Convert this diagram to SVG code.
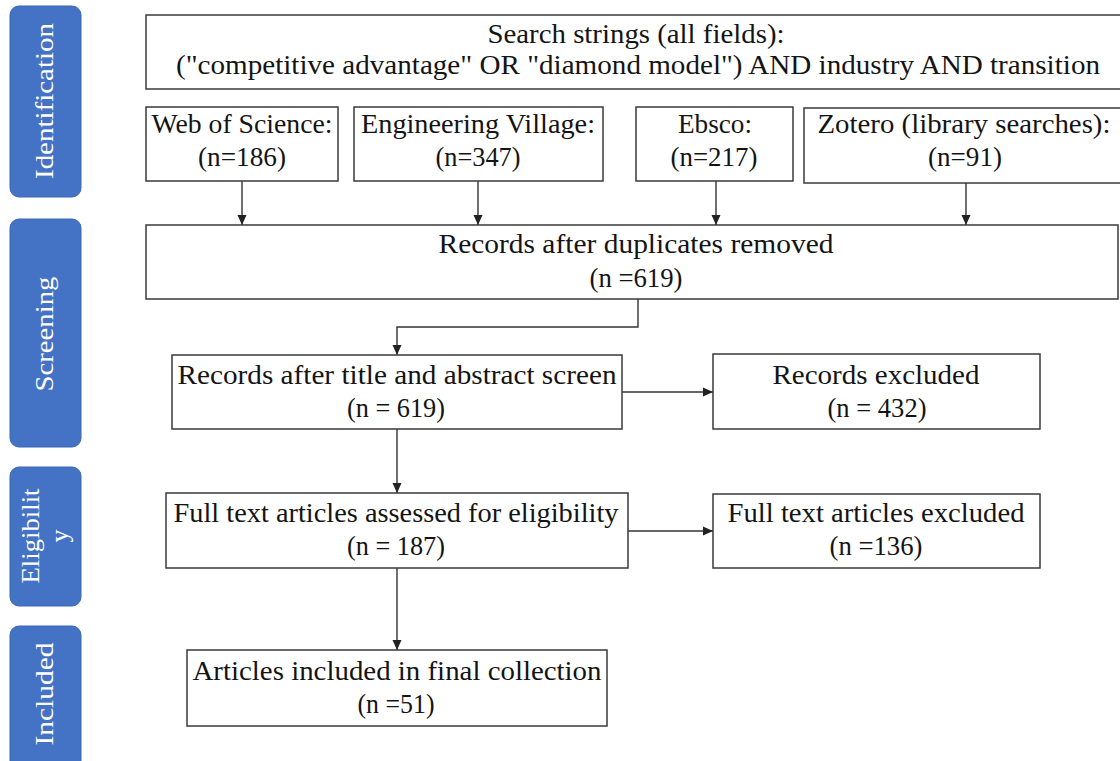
<svg xmlns="http://www.w3.org/2000/svg" width="1120" height="761" viewBox="0 0 1120 761">
  <defs>
    <style>
      .tab { fill: #4472C4; stroke: #3B66B5; stroke-width: 1; }
      .tabtxt { font-family: "Liberation Serif", serif; font-size: 26px; fill: #ffffff; text-anchor: middle; }
      .box { fill: #ffffff; stroke: #3a3a3a; stroke-width: 1.5; }
      .txt { font-family: "Liberation Serif", serif; font-size: 26.5px; fill: #141414; text-anchor: middle; }
      .conn { fill: none; stroke: #333333; stroke-width: 1.4; }
    </style>
    <marker id="arrow" markerUnits="userSpaceOnUse" markerWidth="10" markerHeight="10" viewBox="0 0 10 10" refX="10" refY="5" orient="auto">
      <path d="M0,0.5 L10,5 L0,9.5 Z" fill="#222222"/>
    </marker>
  </defs>

  <!-- stage tabs -->
  <g id="tab-identification">
    <rect class="tab" x="10" y="6" width="71" height="191" rx="9"/>
    <text class="tabtxt" transform="translate(53,101) rotate(-90)" textLength="156" lengthAdjust="spacingAndGlyphs">Identification</text>
  </g>
  <g id="tab-screening">
    <rect class="tab" x="10" y="219" width="71" height="228" rx="9"/>
    <text class="tabtxt" transform="translate(53,334) rotate(-90)" textLength="115" lengthAdjust="spacingAndGlyphs">Screening</text>
  </g>
  <g id="tab-eligibility">
    <rect class="tab" x="10" y="467" width="71" height="139" rx="9"/>
    <text class="tabtxt" transform="translate(39,536) rotate(-90)" textLength="95" lengthAdjust="spacingAndGlyphs">Eligibilit</text>
    <text class="tabtxt" transform="translate(68,536) rotate(-90)">y</text>
  </g>
  <g id="tab-included">
    <rect class="tab" x="10" y="626" width="71" height="150" rx="9"/>
    <text class="tabtxt" transform="translate(53,694) rotate(-90)" textLength="103" lengthAdjust="spacingAndGlyphs">Included</text>
  </g>

  <!-- connectors -->
  <g id="connectors">
    <line class="conn" x1="242" y1="181" x2="242" y2="225" marker-end="url(#arrow)"/>
    <line class="conn" x1="478" y1="181" x2="478" y2="225" marker-end="url(#arrow)"/>
    <line class="conn" x1="716" y1="181" x2="716" y2="225" marker-end="url(#arrow)"/>
    <line class="conn" x1="966" y1="183" x2="966" y2="225" marker-end="url(#arrow)"/>
    <polyline class="conn" points="638,299 638,327 397,327 397,355" marker-end="url(#arrow)"/>
    <line class="conn" x1="622" y1="392" x2="713" y2="392" marker-end="url(#arrow)"/>
    <line class="conn" x1="397" y1="429" x2="397" y2="493" marker-end="url(#arrow)"/>
    <line class="conn" x1="628" y1="531" x2="713" y2="531" marker-end="url(#arrow)"/>
    <line class="conn" x1="397" y1="568" x2="397" y2="650" marker-end="url(#arrow)"/>
  </g>

  <!-- nodes -->
  <g id="search-strings">
    <rect class="box" x="146" y="15" width="990" height="74"/>
    <text class="txt" x="636" y="43" textLength="297" lengthAdjust="spacingAndGlyphs">Search strings (all fields):</text>
    <text class="txt" x="638" y="74" textLength="924" lengthAdjust="spacingAndGlyphs">("competitive advantage" OR "diamond model") AND industry AND transition</text>
  </g>
  <g id="web-of-science">
    <rect class="box" x="146" y="107" width="192" height="74"/>
    <text class="txt" x="242" y="133" textLength="181" lengthAdjust="spacingAndGlyphs">Web of Science:</text>
    <text class="txt" x="242" y="166" textLength="88" lengthAdjust="spacingAndGlyphs">(n=186)</text>
  </g>
  <g id="engineering-village">
    <rect class="box" x="354" y="107" width="249" height="74"/>
    <text class="txt" x="478" y="133" textLength="234" lengthAdjust="spacingAndGlyphs">Engineering Village:</text>
    <text class="txt" x="478" y="166" textLength="85" lengthAdjust="spacingAndGlyphs">(n=347)</text>
  </g>
  <g id="ebsco">
    <rect class="box" x="636" y="107" width="157" height="74"/>
    <text class="txt" x="715" y="133" textLength="74" lengthAdjust="spacingAndGlyphs">Ebsco:</text>
    <text class="txt" x="714" y="166" textLength="87" lengthAdjust="spacingAndGlyphs">(n=217)</text>
  </g>
  <g id="zotero">
    <rect class="box" x="804" y="108" width="330" height="75"/>
    <text class="txt" x="964" y="133" textLength="293" lengthAdjust="spacingAndGlyphs">Zotero (library searches):</text>
    <text class="txt" x="965" y="166" textLength="74" lengthAdjust="spacingAndGlyphs">(n=91)</text>
  </g>
  <g id="duplicates-removed">
    <rect class="box" x="146" y="225" width="972" height="74"/>
    <text class="txt" x="636" y="253" textLength="395" lengthAdjust="spacingAndGlyphs">Records after duplicates removed</text>
    <text class="txt" x="636" y="287" textLength="93" lengthAdjust="spacingAndGlyphs">(n =619)</text>
  </g>
  <g id="title-abstract-screen">
    <rect class="box" x="172" y="355" width="450" height="74"/>
    <text class="txt" x="397" y="384" textLength="439" lengthAdjust="spacingAndGlyphs">Records after title and abstract screen</text>
    <text class="txt" x="396" y="417" textLength="98" lengthAdjust="spacingAndGlyphs">(n = 619)</text>
  </g>
  <g id="records-excluded">
    <rect class="box" x="713" y="354" width="327" height="75"/>
    <text class="txt" x="876" y="384" textLength="207" lengthAdjust="spacingAndGlyphs">Records excluded</text>
    <text class="txt" x="877" y="417" textLength="99" lengthAdjust="spacingAndGlyphs">(n = 432)</text>
  </g>
  <g id="full-text-assessed">
    <rect class="box" x="166" y="493" width="462" height="75"/>
    <text class="txt" x="396" y="522" textLength="445" lengthAdjust="spacingAndGlyphs">Full text articles assessed for eligibility</text>
    <text class="txt" x="396" y="555" textLength="98" lengthAdjust="spacingAndGlyphs">(n = 187)</text>
  </g>
  <g id="full-text-excluded">
    <rect class="box" x="713" y="494" width="327" height="74"/>
    <text class="txt" x="876" y="522" textLength="297" lengthAdjust="spacingAndGlyphs">Full text articles excluded</text>
    <text class="txt" x="876" y="555" textLength="93" lengthAdjust="spacingAndGlyphs">(n =136)</text>
  </g>
  <g id="final-collection">
    <rect class="box" x="187" y="650" width="420" height="76"/>
    <text class="txt" x="397" y="680" textLength="409" lengthAdjust="spacingAndGlyphs">Articles included in final collection</text>
    <text class="txt" x="396" y="713" textLength="77" lengthAdjust="spacingAndGlyphs">(n =51)</text>
  </g>
</svg>
